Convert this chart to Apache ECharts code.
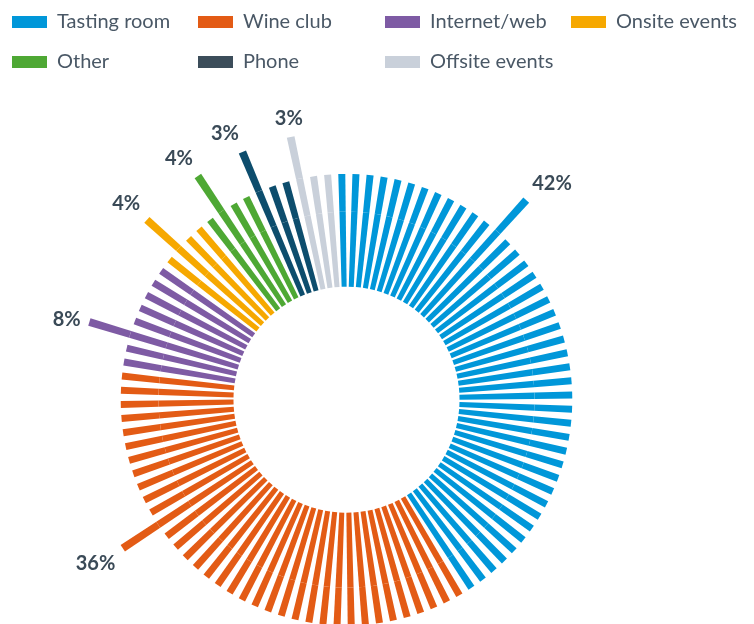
<!DOCTYPE html>
<html>
<head>
<meta charset="utf-8">
<script src="https://cdn.jsdelivr.net/npm/echarts@6/dist/echarts.min.js"></script>
<style>
  html, body { margin: 0; padding: 0; background: #fff; }
  #chart { width: 754px; height: 624px; }
</style>
</head>
<body>
<div id="chart"></div>
<script>
// sales channel shares, one bar per percent
const categories = ['Tasting room', 'Wine club', 'Internet/web', 'Onsite events', 'Other', 'Phone', 'Offsite events']
const shares = [42, 36, 8, 4, 4, 3, 3]
// which bar inside each group is drawn long and carries the label
const longBarSlot = [12, 24, 2, 1, 1, 0, 0]
const colors = ['#0097d9', '#e35b15', '#7e5ba4', '#f6a800', '#4ea834', '#0d4d6d', '#c9d0da']

const BAR = 1
const LONG_BAR = 1.38

const chart = echarts.init(document.getElementById('chart'))

// expand each share into its 1% bars, [radius, angle, isLong]
let start = 0
const seriesData = shares.map(function (n, i) {
  const arr = []
  for (let k = 0; k < n; k++) {
    const isLong = k === longBarSlot[i] ? 1 : 0
    arr.push([isLong ? LONG_BAR : BAR, start + k + 0.5, isLong])
  }
  start += n
  return arr
})

function renderBar (params, api) {
  const r = api.value(0)
  const a = api.value(1)
  const p0 = api.coord([0, a])
  const p1 = api.coord([r, a])
  const dx = p1[0] - p0[0]
  const dy = p1[1] - p0[1]
  const len = Math.sqrt(dx * dx + dy * dy)
  const ux = dx / len
  const uy = dy / len
  const nx = -uy
  const ny = ux
  const color = colors[params.seriesIndex]
  const widthAt = function (t) { return 5 + 0.018 * t }
  const pt = function (t, side) {
    const w = widthAt(t) / 2 * side
    return [p0[0] + ux * t + nx * w, p0[1] + uy * t + ny * w]
  }
  // bars are drawn in pieces, the seams show faintly like in the original
  const cuts = [0]
  ;[75, 113].forEach(function (c) { if (c < len - 2) cuts.push(c) })
  cuts.push(len)
  const children = []
  for (let i = 0; i < cuts.length - 1; i++) {
    const t0 = cuts[i]
    const t1 = cuts[i + 1]
    children.push({
      type: 'polygon',
      shape: { points: [pt(t0, -1), pt(t1, -1), pt(t1, 1), pt(t0, 1)] },
      style: { fill: color }
    })
  }
  if (api.value(2) === 1) {
    const align = ux > 0.3 ? 'left' : (ux < -0.3 ? 'right' : 'center')
    const vAlign = uy < -0.3 ? 'bottom' : (uy > 0.3 ? 'top' : 'middle')
    children.push({
      type: 'text',
      x: p1[0] + ux * 9,
      y: p1[1] + uy * 9,
      style: {
        text: shares[params.seriesIndex] + '%',
        fill: '#3a4a57',
        fontSize: 20,
        fontWeight: 'bold',
        fontFamily: 'Lato',
        align: align,
        verticalAlign: vAlign
      }
    })
  }
  return { type: 'group', children: children }
}

const legendBase = {
  orient: 'vertical',
  top: 12,
  padding: 0,
  itemGap: 20,
  itemWidth: 35,
  itemHeight: 12,
  icon: 'rect',
  selectedMode: false,
  textStyle: { fontSize: 20, color: '#4a5866', fontFamily: 'Lato', padding: [0, 0, 0, 5] }
}

const options = {
  animation: false,
  legend: [
    Object.assign({ left: 12, data: ['Tasting room', 'Other'] }, legendBase),
    Object.assign({ left: 198, data: ['Wine club', { name: 'Phone', itemStyle: { color: '#3c4d5a' } }] }, legendBase),
    Object.assign({ left: 385, data: ['Internet/web', 'Offsite events'] }, legendBase),
    Object.assign({ left: 571, data: ['Onsite events'] }, legendBase)
  ],
  polar: {
    center: [346.5, 399.7],
    radius: [113, 268.6]
  },
  angleAxis: {
    type: 'value',
    min: 0,
    max: 100,
    startAngle: 93,
    show: false
  },
  radiusAxis: {
    type: 'value',
    min: 0,
    max: LONG_BAR,
    show: false
  },
  series: categories.map(function (name, i) {
    return {
      name: name,
      type: 'custom',
      coordinateSystem: 'polar',
      itemStyle: { color: colors[i] },
      renderItem: renderBar,
      data: seriesData[i]
    }
  })
}

chart.setOption(options)
</script>
</body>
</html>
